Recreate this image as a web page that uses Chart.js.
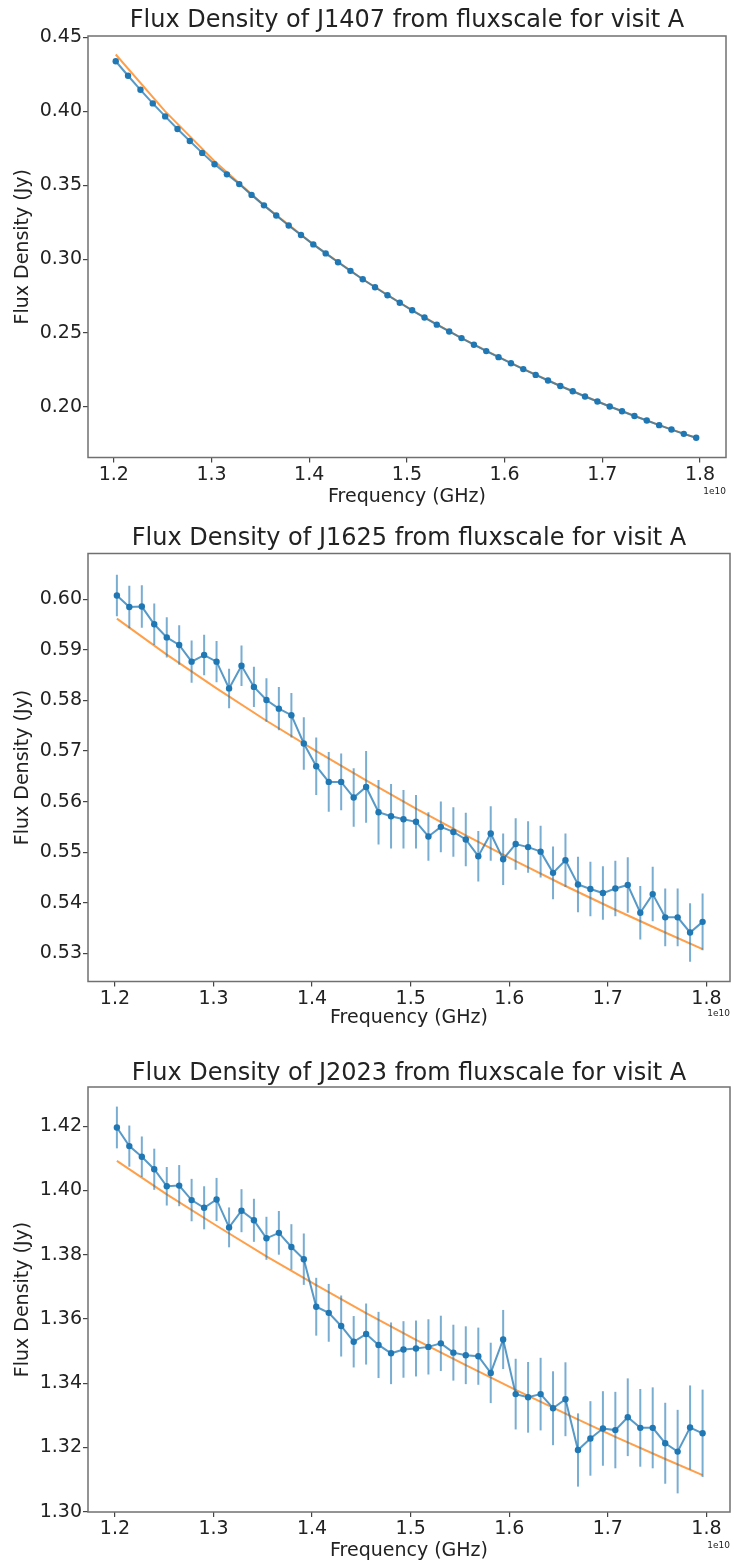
<!DOCTYPE html>
<html>
<head>
<meta charset="utf-8">
<title>Flux Density from fluxscale - visit A</title>
<script src="https://cdn.jsdelivr.net/npm/chart.js@4.4.1/dist/chart.umd.min.js"></script>
<style>
    html, body { margin: 0; padding: 0; background: #fff; overflow: hidden; }
    #page { position: relative; width: 734px; height: 1562px; }
    canvas { position: absolute; left: 0; }
</style>
</head>
<body>
<div id="page">
    <canvas id="chart-j1407" width="734" height="510" style="top:0px"></canvas>
    <canvas id="chart-j1625" width="734" height="520" style="top:515px"></canvas>
    <canvas id="chart-j2023" width="734" height="530" style="top:1040px"></canvas>
</div>
<script>
// spw centre frequencies (GHz), shared by all three sources
const freqGHz = [
    12.020, 12.146, 12.273, 12.399, 12.526, 12.652, 12.778, 12.905, 13.031, 13.158,
    13.284, 13.410, 13.537, 13.663, 13.790, 13.916, 14.042, 14.169, 14.295, 14.422,
    14.548, 14.674, 14.801, 14.927, 15.054, 15.180, 15.306, 15.433, 15.559, 15.686,
    15.812, 15.938, 16.065, 16.191, 16.318, 16.444, 16.570, 16.697, 16.823, 16.950,
    17.076, 17.202, 17.329, 17.455, 17.582, 17.708, 17.834, 17.961
];
// frequencies where the fitted spectrum is sampled
const fitFreqGHz = [12.020, 12.526, 13.031, 13.537, 14.042, 14.548, 15.054, 15.559, 16.065, 16.570, 17.076, 17.582, 17.961];

const xTicks = [1.2e10, 1.3e10, 1.4e10, 1.5e10, 1.6e10, 1.7e10, 1.8e10];
const xTickLabels = ['1.2', '1.3', '1.4', '1.5', '1.6', '1.7', '1.8'];

// J1407
const j1407Flux = [
    0.4339, 0.4241, 0.4146, 0.4054, 0.3966, 0.3881, 0.3800, 0.3719, 0.3642, 0.3574,
    0.3508, 0.3435, 0.3364, 0.3295, 0.3228, 0.3163, 0.3100, 0.3039, 0.2979, 0.2921,
    0.2864, 0.2810, 0.2756, 0.2705, 0.2654, 0.2605, 0.2557, 0.2511, 0.2466, 0.2421,
    0.2378, 0.2337, 0.2296, 0.2256, 0.2217, 0.2179, 0.2142, 0.2106, 0.2071, 0.2037,
    0.2003, 0.1971, 0.1939, 0.1908, 0.1877, 0.1847, 0.1818, 0.1792
];
const j1407Fit = [0.4385, 0.4000, 0.3662, 0.3364, 0.3100, 0.2864, 0.2654, 0.2466, 0.2296, 0.2142, 0.2003, 0.1877, 0.1790];
const j1407Ticks = [0.20, 0.25, 0.30, 0.35, 0.40, 0.45];
const j1407TickLabels = ['0.20', '0.25', '0.30', '0.35', '0.40', '0.45'];

// J1625
const j1625Flux = [
    0.6008, 0.5985, 0.5986, 0.5951, 0.5925, 0.5910, 0.5877, 0.5890, 0.5877, 0.5824,
    0.5869, 0.5827, 0.5801, 0.5784, 0.5771, 0.5715, 0.5670, 0.5639, 0.5639, 0.5608,
    0.5629, 0.5579, 0.5571, 0.5565, 0.5560, 0.5531, 0.5550, 0.5540, 0.5525, 0.5492,
    0.5537, 0.5486, 0.5516, 0.5510, 0.5501, 0.5459, 0.5484, 0.5436, 0.5427, 0.5419,
    0.5428, 0.5435, 0.5380, 0.5417, 0.5371, 0.5371, 0.5341, 0.5362
];
const j1625Err = [
    0.0041, 0.0042, 0.0042, 0.0041, 0.0040, 0.0039, 0.0042, 0.0040, 0.0041, 0.0039,
    0.0040, 0.0040, 0.0043, 0.0043, 0.0044, 0.0052, 0.0057, 0.0059, 0.0056, 0.0058,
    0.0071, 0.0064, 0.0064, 0.0058, 0.0053, 0.0048, 0.0050, 0.0049, 0.0053, 0.0050,
    0.0054, 0.0051, 0.0051, 0.0051, 0.0051, 0.0052, 0.0053, 0.0055, 0.0054, 0.0053,
    0.0055, 0.0055, 0.0053, 0.0054, 0.0057, 0.0057, 0.0058, 0.0056
];
const j1625Fit = [0.5962, 0.5891, 0.5824, 0.5760, 0.5700, 0.5642, 0.5586, 0.5533, 0.5482, 0.5433, 0.5386, 0.5341, 0.5308];
const j1625Ticks = [0.53, 0.54, 0.55, 0.56, 0.57, 0.58, 0.59, 0.60];
const j1625TickLabels = ['0.53', '0.54', '0.55', '0.56', '0.57', '0.58', '0.59', '0.60'];

// J2023
const j2023Flux = [
    1.4196, 1.4138, 1.4105, 1.4066, 1.4013, 1.4015, 1.3970, 1.3946, 1.3972, 1.3885,
    1.3937, 1.3907, 1.3851, 1.3868, 1.3824, 1.3786, 1.3638, 1.3619, 1.3578, 1.3529,
    1.3553, 1.3519, 1.3493, 1.3505, 1.3508, 1.3513, 1.3524, 1.3495, 1.3487, 1.3484,
    1.3432, 1.3536, 1.3366, 1.3356, 1.3366, 1.3322, 1.3350, 1.3192, 1.3228, 1.3259,
    1.3254, 1.3294, 1.3261, 1.3261, 1.3213, 1.3187, 1.3262, 1.3244
];
const j2023Err = [
    0.0065, 0.0064, 0.0063, 0.0064, 0.0060, 0.0064, 0.0066, 0.0067, 0.0067, 0.0062,
    0.0067, 0.0067, 0.0067, 0.0068, 0.0071, 0.0080, 0.0090, 0.0090, 0.0095, 0.0080,
    0.0095, 0.0103, 0.0096, 0.0088, 0.0087, 0.0086, 0.0086, 0.0087, 0.0090, 0.0089,
    0.0094, 0.0092, 0.0110, 0.0110, 0.0113, 0.0115, 0.0115, 0.0114, 0.0116, 0.0116,
    0.0119, 0.0121, 0.0121, 0.0126, 0.0126, 0.0130, 0.0131, 0.0136
];
const j2023Fit = [1.4092, 1.3988, 1.3890, 1.3795, 1.3705, 1.3618, 1.3535, 1.3456, 1.3379, 1.3305, 1.3233, 1.3164, 1.3114];
const j2023Ticks = [1.30, 1.32, 1.34, 1.36, 1.38, 1.40, 1.42];
const j2023TickLabels = ['1.30', '1.32', '1.34', '1.36', '1.38', '1.40', '1.42'];

const BLUE = '#1f77b4';
const TEXT = '#222222';
const FONT = "'DejaVu Sans', sans-serif";

// vertical error bars, drawn just before the measured series
const errorBarPlugin = {
    id: 'errorBars',
    beforeDatasetDraw(chart, args) {
        const ds = chart.data.datasets[args.index];
        if (!ds.errors) return;
        const {ctx, chartArea, scales} = chart;
        ctx.save();
        ctx.beginPath();
        ctx.rect(chartArea.left, chartArea.top, chartArea.width, chartArea.height);
        ctx.clip();
        ctx.strokeStyle = 'rgba(31, 119, 180, 0.6)';
        ctx.lineWidth = 2;
        ds.data.forEach((p, i) => {
            const x = scales.x.getPixelForValue(p.x);
            ctx.beginPath();
            ctx.moveTo(x, scales.y.getPixelForValue(p.y - ds.errors[i]));
            ctx.lineTo(x, scales.y.getPixelForValue(p.y + ds.errors[i]));
            ctx.stroke();
        });
        ctx.restore();
    }
};

// matplotlib style box around the axes
const framePlugin = {
    id: 'frame',
    afterDatasetsDraw(chart) {
        const {ctx, chartArea} = chart;
        ctx.save();
        ctx.strokeStyle = '#707070';
        ctx.lineWidth = 1.5;
        ctx.strokeRect(chartArea.left, chartArea.top, chartArea.width, chartArea.height);
        ctx.restore();
    }
};

// the "1e10" offset label under the x axis
const offsetTextPlugin = {
    id: 'offsetText',
    afterDraw(chart, args, opts) {
        const {ctx, chartArea} = chart;
        ctx.save();
        ctx.font = `9px ${FONT}`;
        ctx.fillStyle = TEXT;
        ctx.textAlign = 'right';
        ctx.textBaseline = 'middle';
        ctx.fillText(opts.text, chartArea.right, opts.y);
        ctx.restore();
    }
};

function renderFluxChart(canvasId, box, series) {
    const canvas = document.getElementById(canvasId);
    const canvasH = canvas.height;
    const titleLine = 24 * 1.1;
    const labelLine = 19 * 1.2;

    return new Chart(canvas, {
        type: 'line',
        data: {
            datasets: [{
                label: 'Flux density',
                data: freqGHz.map((f, i) => ({x: f * 1e9, y: series.flux[i]})),
                errors: series.errors,
                borderColor: 'rgba(31, 119, 180, 0.75)',
                borderWidth: 2,
                pointRadius: 3.2,
                pointBackgroundColor: BLUE,
                pointBorderColor: BLUE,
                pointBorderWidth: 0,
                tension: 0,
                fill: false
            }, {
                label: 'Fit',
                data: fitFreqGHz.map((f, i) => ({x: f * 1e9, y: series.fit[i]})),
                borderColor: 'rgba(255, 127, 14, 0.75)',
                borderWidth: 2,
                pointRadius: 0,
                tension: 0,
                fill: false
            }]
        },
        options: {
            responsive: false,
            animation: false,
            events: [],
            layout: {
                padding: {left: 0, right: 734 - box.plotRight, top: 0, bottom: 0}
            },
            plugins: {
                legend: {display: false},
                tooltip: {enabled: false},
                title: {
                    display: true,
                    text: series.title,
                    fullSize: false,
                    color: TEXT,
                    font: {family: FONT, size: 24, weight: 'normal', lineHeight: 1.1},
                    padding: {
                        top: box.titleY - box.top - titleLine / 2,
                        bottom: Math.max(0, box.plotTop - box.titleY - titleLine / 2)
                    }
                },
                offsetText: {text: '1e10', y: box.offsetY - box.top}
            },
            scales: {
                x: {
                    type: 'linear',
                    min: series.xMin,
                    max: series.xMax,
                    afterBuildTicks: (axis) => {
                        axis.ticks = xTicks.map(v => ({value: v}));
                    },
                    afterFit: (axis) => {
                        axis.height = box.top + canvasH - box.plotBottom;
                    },
                    ticks: {
                        callback: (value, index) => xTickLabels[index],
                        color: TEXT,
                        font: {family: FONT, size: 19},
                        padding: 1,
                        maxRotation: 0,
                        autoSkip: false
                    },
                    grid: {
                        drawOnChartArea: false,
                        drawTicks: true,
                        tickLength: 5,
                        color: '#444444',
                        lineWidth: 1.2
                    },
                    border: {display: false},
                    title: {
                        display: true,
                        text: 'Frequency (GHz)',
                        color: TEXT,
                        font: {family: FONT, size: 19, lineHeight: 1.2},
                        padding: {top: 0, bottom: box.top + canvasH - box.xLabelY - labelLine / 2}
                    }
                },
                y: {
                    type: 'linear',
                    min: series.yMin,
                    max: series.yMax,
                    afterBuildTicks: (axis) => {
                        axis.ticks = series.yTicks.map(v => ({value: v}));
                    },
                    afterFit: (axis) => {
                        axis.width = 88;
                    },
                    ticks: {
                        callback: (value, index) => series.yTickLabels[index],
                        color: TEXT,
                        font: {family: FONT, size: 19},
                        padding: 1,
                        autoSkip: false
                    },
                    grid: {
                        drawOnChartArea: false,
                        drawTicks: true,
                        tickLength: 5,
                        color: '#444444',
                        lineWidth: 1.2
                    },
                    border: {display: false},
                    title: {
                        display: true,
                        text: 'Flux Density (Jy)',
                        color: TEXT,
                        font: {family: FONT, size: 19, lineHeight: 1.2},
                        padding: {top: 12, bottom: 0}
                    }
                }
            }
        },
        plugins: [errorBarPlugin, framePlugin, offsetTextPlugin]
    });
}

renderFluxChart('chart-j1407',
    {top: 0, plotTop: 36, plotBottom: 457.5, plotRight: 726, titleY: 21, xLabelY: 497, offsetY: 492},
    {
        title: 'Flux Density of J1407 from fluxscale for visit A',
        flux: j1407Flux, errors: null, fit: j1407Fit,
        xMin: 1.1736e10, xMax: 1.8266e10, yMin: 0.1658, yMax: 0.4510,
        yTicks: j1407Ticks, yTickLabels: j1407TickLabels
    });

renderFluxChart('chart-j1625',
    {top: 515, plotTop: 553.5, plotBottom: 981.5, plotRight: 733, titleY: 539, xLabelY: 1018, offsetY: 1014},
    {
        title: 'Flux Density of J1625 from fluxscale for visit A',
        flux: j1625Flux, errors: j1625Err, fit: j1625Fit,
        xMin: 1.1727e10, xMax: 1.8239e10, yMin: 0.5244, yMax: 0.6091,
        yTicks: j1625Ticks, yTickLabels: j1625TickLabels
    });

renderFluxChart('chart-j2023',
    {top: 1040, plotTop: 1087, plotBottom: 1512, plotRight: 733, titleY: 1073.5, xLabelY: 1551.5, offsetY: 1546},
    {
        title: 'Flux Density of J2023 from fluxscale for visit A',
        flux: j2023Flux, errors: j2023Err, fit: j2023Fit,
        xMin: 1.1727e10, xMax: 1.8239e10, yMin: 1.2999, yMax: 1.4322,
        yTicks: j2023Ticks, yTickLabels: j2023TickLabels
    });
</script>
</body>
</html>
